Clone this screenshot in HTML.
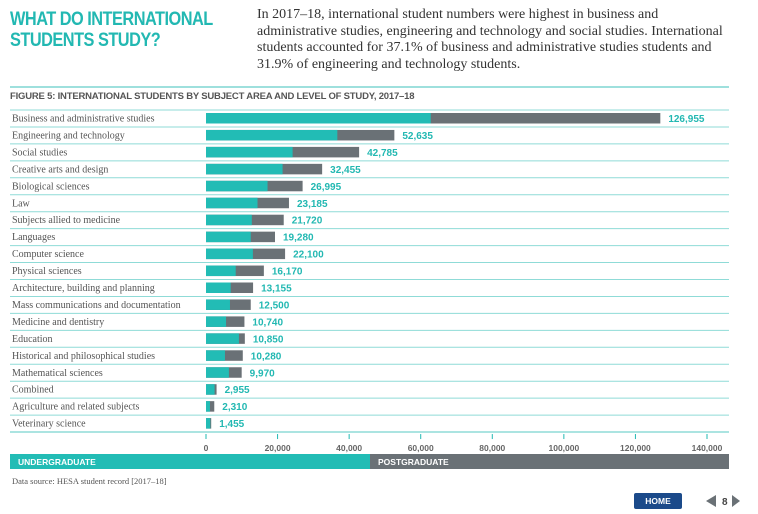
<!DOCTYPE html>
<html><head><meta charset="utf-8"><style>
body{margin:0;background:#fff;width:758px;height:514px;overflow:hidden;position:relative;font-family:"Liberation Sans",sans-serif}
.h1{position:absolute;left:10px;top:9px;color:#22b8b2;font-weight:bold;font-size:19px;line-height:21px;letter-spacing:-0.6px;transform:scaleX(0.86);transform-origin:0 0;white-space:nowrap}
.p{position:absolute;left:257px;top:7px;width:495px;font-family:"Liberation Serif",serif;font-size:14px;line-height:16.7px;color:#333;white-space:nowrap}
.ft{position:absolute;left:10px;top:91px;font-size:9.5px;font-weight:bold;color:#555;letter-spacing:-0.2px}
svg{position:absolute;left:0;top:0}
</style></head><body>
<div class="h1">WHAT DO INTERNATIONAL<br>STUDENTS STUDY?</div>
<div class="p">In 2017–18, international student numbers were highest in business and<br>administrative studies, engineering and technology and social studies. International<br>students accounted for 37.1% of business and administrative studies students and<br>31.9% of engineering and technology students.</div>
<div class="ft">FIGURE 5: INTERNATIONAL STUDENTS BY SUBJECT AREA AND LEVEL OF STUDY, 2017–18</div>
<svg id="chart" width="758" height="514"></svg>
<script>
const categories=["Business and administrative studies","Engineering and technology","Social studies","Creative arts and design","Biological sciences","Law","Subjects allied to medicine","Languages","Computer science","Physical sciences","Architecture, building and planning","Mass communications and documentation","Medicine and dentistry","Education","Historical and philosophical studies","Mathematical sciences","Combined","Agriculture and related subjects","Veterinary science"];
const totals=[126955,52635,42785,32455,26995,23185,21720,19280,22100,16170,13155,12500,10740,10850,10280,9970,2955,2310,1455];
const undergrad=[62800,36700,24200,21400,17200,14400,12800,12500,13100,8300,6900,6700,5600,9200,5300,6400,2400,1100,1200];
const ticks=[0,20000,40000,60000,80000,100000,120000,140000];
const NS="http://www.w3.org/2000/svg";
const svg=document.getElementById('chart');
const x0=206,x1=707,xmax=140000;
const xs=v=>x0+(x1-x0)*v/xmax;
const rowTop=110,rowH=16.95;
function el(t,a){const e=document.createElementNS(NS,t);for(const k in a)e.setAttribute(k,a[k]);svg.appendChild(e);return e;}
let l=el('line',{x1:10,x2:729,y1:87,y2:87,stroke:'#7fd6d2','stroke-width':1.5});


categories.forEach((c,i)=>{
  const y=rowTop+i*rowH;
  const sep=el('line',{x1:10,x2:729,y1:y,y2:y,stroke:'#8fdbd7','stroke-width':1});
  
  
  const t=el('text',{x:12,y:y+11.5,'font-family':'Liberation Serif, serif','font-size':'10px',fill:'#555'});
  t.textContent=c;
  
  
  const pg=el('rect',{x:xs(0),y:y+3,width:xs(totals[i])-xs(0),height:10.5,fill:'#6a7176'});
  
  
  const ug=el('rect',{x:xs(0),y:y+3,width:xs(undergrad[i])-xs(0),height:10.5,fill:'#22bcb5'});
  
  
  const v=el('text',{x:xs(totals[i])+8,y:y+12,'font-size':'10px','font-weight':'bold',fill:'#22b8b2'});
  v.textContent=totals[i].toLocaleString('en-US');
  
  
});
const yb=rowTop+categories.length*rowH;
l=el('line',{x1:10,x2:729,y1:yb,y2:yb,stroke:'#8fdbd7','stroke-width':1.5});


ticks.forEach(t=>{
  const tk=el('line',{x1:xs(t),x2:xs(t),y1:yb+2,y2:yb+7,stroke:'#22b8b2','stroke-width':1});
  
  
  const tl=el('text',{x:xs(t),y:yb+19,'text-anchor':'middle','font-size':'8.5px','font-weight':'bold',fill:'#666'});
  tl.textContent=t.toLocaleString('en-US');
  
  
});
let r=el('rect',{x:10,y:454,width:360,height:15,fill:'#22bcb5'});


r=el('rect',{x:370,y:454,width:359,height:15,fill:'#6a7176'});


let tx=el('text',{x:18,y:465,'font-size':'8.5px','font-weight':'bold',fill:'#fff'});tx.textContent='UNDERGRADUATE';


tx=el('text',{x:378,y:465,'font-size':'8.5px','font-weight':'bold',fill:'#fff'});tx.textContent='POSTGRADUATE';


tx=el('text',{x:12,y:484,'font-family':'Liberation Serif, serif','font-size':'8.5px',fill:'#555'});tx.textContent='Data source: HESA student record [2017–18]';


r=el('rect',{x:634,y:493,width:48,height:16,rx:2,fill:'#1b4a8a'});


tx=el('text',{x:658,y:504,'text-anchor':'middle','font-size':'8.5px','font-weight':'bold',fill:'#fff'});tx.textContent='HOME';


r=el('polygon',{points:'706,501 716,495 716,507',fill:'#6a7176'});


tx=el('text',{x:722,y:505,'font-size':'10px','font-weight':'bold',fill:'#444'});tx.textContent='8';


r=el('polygon',{points:'732,495 740,501 732,507',fill:'#6a7176'});


</script>
</body></html>
